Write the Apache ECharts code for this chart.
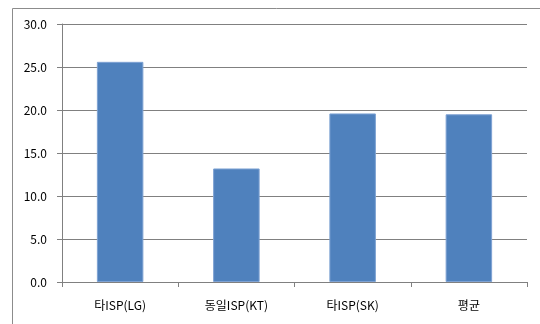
<!DOCTYPE html>
<html>
<head>
<meta charset="utf-8">
<script src="https://cdn.jsdelivr.net/npm/echarts@6/dist/echarts.min.js"></script>
<style>
  html, body { margin: 0; padding: 0; background: #fff; }
  #chart { width: 540px; height: 324px; }
</style>
</head>
<body>
<div id="chart"></div>
<script>
const categories = ['타ISP(LG)', '동일ISP(KT)', '타ISP(SK)', '평균'];
const values = [25.6, 13.2, 19.6, 19.5];
const yTicks = { min: 0, max: 30, interval: 5 };

const chart = echarts.init(document.getElementById('chart'));

const option = {
    animation: false,
    textStyle: { fontFamily: 'Noto Sans CJK KR, Noto Sans, sans-serif' },
    graphic: [
        {
            // outer chart frame, cropped at right and bottom
            type: 'rect',
            shape: { x: 12.5, y: 8.5, width: 540, height: 330 },
            style: { fill: 'none', stroke: '#8c8c8c', lineWidth: 1 },
            z: -1
        }
    ],
    grid: { left: 62, right: 13, top: 24, bottom: 42 },
    xAxis: {
        type: 'category',
        data: categories,
        axisLine: { lineStyle: { color: '#808080' } },
        axisTick: { show: true, length: 5, lineStyle: { color: '#808080' } },
        axisLabel: { color: '#000', fontSize: 12, margin: 17 }
    },
    yAxis: {
        type: 'value',
        min: yTicks.min,
        max: yTicks.max,
        interval: yTicks.interval,
        axisLine: { show: true, lineStyle: { color: '#808080' } },
        axisTick: { show: true, length: 5, lineStyle: { color: '#808080' } },
        axisLabel: {
            color: '#000',
            fontSize: 12,
            margin: 15,
            formatter: v => v.toFixed(1)
        },
        splitLine: { lineStyle: { color: '#808080', width: 1 } }
    },
    series: [{
        type: 'bar',
        data: values,
        barWidth: '40%',
        itemStyle: { color: '#4f81bd', borderColor: '#7ea2d3', borderWidth: 1 }
    }]
};

chart.setOption(option);
</script>
</body>
</html>
